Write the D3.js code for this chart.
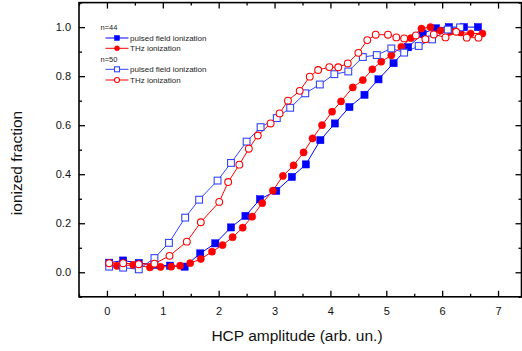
<!DOCTYPE html>
<html><head><meta charset="utf-8">
<script src="https://cdn.jsdelivr.net/npm/d3@7"></script>
<style>
html,body{margin:0;padding:0;background:#fff;}
svg{display:block;font-family:"Liberation Sans",Arial,sans-serif;}
</style></head>
<body><svg id="c" width="522" height="351"></svg>
<script>
// n=44, pulsed field ionization (filled blue squares)
const pfi44X = [0.04,0.29,0.57,0.85,1.13,1.39,1.67,1.94,2.22,2.48,2.74,3.03,3.31,3.56,3.82,4.08,4.34,4.61,4.86,5.13,5.39,5.65,5.89,6.12,6.39,6.64];
const pfi44Y = [0.039,0.048,0.038,0.03,0.027,0.023,0.077,0.118,0.183,0.230,0.298,0.332,0.389,0.440,0.539,0.607,0.674,0.724,0.787,0.853,0.918,0.974,0.995,1.0,1.0,1.0];
// n=44, THz ionization (filled red circles)
const thz44X = [0.04,0.18,0.47,0.77,0.96,1.15,1.31,1.49,1.68,1.88,2.07,2.25,2.43,2.60,2.78,2.97,3.15,3.34,3.52,3.68,3.85,4.03,4.19,4.40,4.58,4.75,4.91,5.09,5.27,5.44,5.63,5.79,5.97,6.15,6.33,6.51,6.72];
const thz44Y = [0.03,0.026,0.03,0.02,0.022,0.023,0.027,0.037,0.054,0.084,0.111,0.143,0.182,0.227,0.282,0.333,0.393,0.436,0.489,0.546,0.600,0.655,0.697,0.754,0.784,0.828,0.859,0.885,0.920,0.955,0.994,1.0,0.986,0.982,0.978,0.974,0.974];
// n=50, pulsed field ionization (open blue squares)
const pfi50X = [0.04,0.29,0.57,0.85,1.11,1.40,1.65,1.98,2.22,2.50,2.75,3.04,3.28,3.55,3.81,4.07,4.32,4.58,4.83,5.09,5.32,5.58,5.82,6.10,6.32];
const pfi50Y = [0.023,0.019,0.012,0.058,0.12,0.223,0.296,0.374,0.446,0.533,0.592,0.629,0.671,0.730,0.766,0.808,0.819,0.878,0.886,0.913,0.896,0.923,0.950,0.990,0.999];
// n=50, THz ionization (open red circles)
const thz50X = [0.04,0.29,0.57,0.85,1.12,1.43,1.68,2.01,2.17,2.37,2.54,2.70,2.93,3.09,3.24,3.45,3.63,3.78,3.98,4.14,4.31,4.50,4.66,4.81,5.03,5.18,5.32,5.53,5.70,5.85,6.06,6.25,6.44,6.65];
const thz50Y = [0.037,0.037,0.033,0.035,0.067,0.125,0.204,0.287,0.368,0.439,0.504,0.558,0.607,0.648,0.700,0.740,0.798,0.825,0.837,0.836,0.852,0.895,0.947,0.969,0.969,0.958,0.954,0.966,0.951,0.970,0.958,0.981,0.957,0.957];

const xTicks = [0,1,2,3,4,5,6,7];
const yTicks = [0.0,0.2,0.4,0.6,0.8,1.0];
const xLabel = "HCP amplitude (arb. un.)";
const yLabel = "ionized fraction";
const legendGroups = ["n=44","n=50"];
const seriesNames = ["pulsed field ionization","THz ionization"];

const svg = d3.select("#c");
const L = 79, R = 521.5, T = 2.6, B = 296.8;
const x = d3.scaleLinear().domain([-0.5, 7.42]).range([L, R]);
const y = d3.scaleLinear().domain([-0.1, 1.1]).range([B, T]);

const blue = "#0000ff", blueOpen = "#3344ff", red = "#ff0000";

const zip = (a,b) => a.map((v,i)=>[v,b[i]]);
const series = [
  {d: zip(pfi44X,pfi44Y), color: blue, shape: "square", filled: true},
  {d: zip(thz44X,thz44Y), color: red, shape: "circle", filled: true},
  {d: zip(pfi50X,pfi50Y), color: blueOpen, shape: "square", filled: false},
  {d: zip(thz50X,thz50Y), color: red, shape: "circle", filled: false}
];

const line = d3.line().x(d=>x(d[0])).y(d=>y(d[1]));
const gData = svg.append("g");
series.forEach(s => {
  gData.append("path").attr("d", line(s.d)).attr("fill","none")
    .attr("stroke", s.color).attr("stroke-width", 1);
});
function marker(g, s, cx, cy, size) {
  if (s.shape === "square") {
    g.append("rect").attr("x", cx-size/2).attr("y", cy-size/2)
      .attr("width", size).attr("height", size)
      .attr("fill", s.filled ? s.color : "#fff")
      .attr("stroke", s.color).attr("stroke-width", s.filled ? 0.5 : 1.1);
  } else {
    g.append("circle").attr("cx", cx).attr("cy", cy).attr("r", size/2)
      .attr("fill", s.filled ? s.color : "#fff")
      .attr("stroke", s.color).attr("stroke-width", s.filled ? 0.5 : 1.1);
  }
}
series.forEach(s => {
  const g = gData.append("g");
  s.d.forEach(p => marker(g, s, x(p[0]), y(p[1]), s.filled ? 7.2 : 6.8));
});

// axes (ticks inward)
function axes() {
  const minorX = d3.range(-0.5, 7.5, 0.5).filter(v => Math.abs(v - Math.round(v)) > 0.1);
  const minorY = d3.range(-0.1, 1.1, 0.2).map(v=>+v.toFixed(2));
  const style = g => {
    g.selectAll(".domain").remove();
    g.selectAll(".tick line").attr("stroke","#000").attr("stroke-width",1.3);
    g.selectAll("text").attr("fill","#111").style("font-size","11px");
  };
  svg.append("g").attr("transform",`translate(0,${B})`)
    .call(d3.axisBottom(x).tickValues(xTicks).tickFormat(d3.format("d")).tickSize(-6).tickPadding(10)).call(style);
  svg.append("g").attr("transform",`translate(0,${B})`)
    .call(d3.axisBottom(x).tickValues(minorX).tickFormat("").tickSize(-3)).call(style);
  svg.append("g").attr("transform",`translate(0,${T})`)
    .call(d3.axisTop(x).tickValues(xTicks).tickFormat("").tickSize(-6)).call(style);
  svg.append("g").attr("transform",`translate(0,${T})`)
    .call(d3.axisTop(x).tickValues(minorX).tickFormat("").tickSize(-3)).call(style);
  svg.append("g").attr("transform",`translate(${L},0)`)
    .call(d3.axisLeft(y).tickValues(yTicks).tickFormat(d3.format(".1f")).tickSize(-6).tickPadding(8)).call(style);
  svg.append("g").attr("transform",`translate(${L},0)`)
    .call(d3.axisLeft(y).tickValues(minorY).tickFormat("").tickSize(-3)).call(style);
  svg.append("g").attr("transform",`translate(${R},0)`)
    .call(d3.axisRight(y).tickValues(yTicks).tickFormat("").tickSize(-6)).call(style);
  svg.append("g").attr("transform",`translate(${R},0)`)
    .call(d3.axisRight(y).tickValues(minorY).tickFormat("").tickSize(-3)).call(style);
  svg.append("rect").attr("x",L).attr("y",T).attr("width",R-L).attr("height",B-T)
    .attr("fill","none").attr("stroke","#000").attr("stroke-width",1.6);
}
axes();

svg.append("text").attr("x", 297).attr("y", 341).attr("text-anchor","middle")
  .style("font-size","15.5px").attr("fill","#111").text(xLabel);
svg.append("text").attr("transform","translate(22,163) rotate(-90)").attr("text-anchor","middle")
  .style("font-size","15.5px").attr("fill","#111").text(yLabel);

// legend
const lg = svg.append("g");
const rows = [
  {type:"h", text: legendGroups[0], y: 27.5},
  {type:"s", s: series[0], text: seriesNames[0], y: 38},
  {type:"s", s: series[1], text: seriesNames[1], y: 48.3},
  {type:"h", text: legendGroups[1], y: 59.3},
  {type:"s", s: series[2], text: seriesNames[0], y: 69.3},
  {type:"s", s: series[3], text: seriesNames[1], y: 80}
];
rows.forEach(r => {
  if (r.type === "h") {
    lg.append("text").attr("x", 100.5).attr("y", r.y).attr("dy","0.35em")
      .style("font-size","7.5px").attr("fill","#222").text(r.text);
  } else {
    lg.append("line").attr("x1",105.5).attr("x2",128.5).attr("y1",r.y).attr("y2",r.y)
      .attr("stroke", r.s.color).attr("stroke-width",1);
    marker(lg, r.s, 117, r.y, 5);
    lg.append("text").attr("x", 130).attr("y", r.y).attr("dy","0.35em")
      .style("font-size","8px").attr("fill","#222").text(r.text);
  }
});
</script></body></html>
